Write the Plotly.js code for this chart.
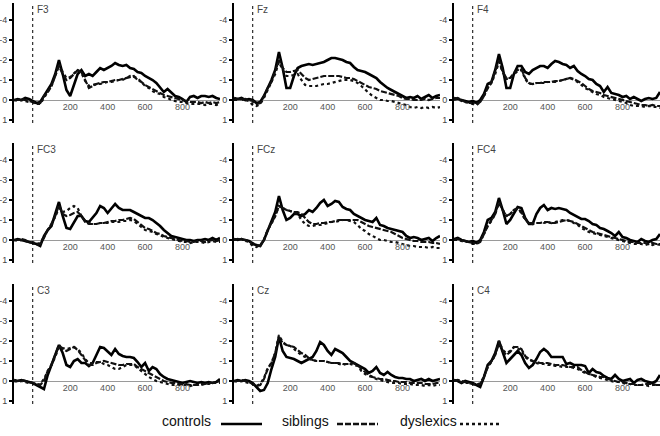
<!DOCTYPE html>
<html><head><meta charset="utf-8">
<script src="https://cdn.plot.ly/plotly-3.0.1.min.js"></script>
<style>html,body{margin:0;padding:0;background:#fff}#chart{width:660px;height:436px}</style>
</head><body><div id="chart"></div>
<script>
// time axis (ms)
const timeMs = [-100,-80,-60,-40,-20,0,20,40,60,80,100,120,140,160,180,200,220,240,260,280,300,320,340,360,380,400,420,440,460,480,500,520,540,560,580,600,620,640,660,680,700,720,740,760,780,800,820,840,860,880,900,920,940,960,980,1000];
const electrodes = ['F3','Fz','F4','FC3','FCz','FC4','C3','Cz','C4'];
const groups = ['controls','siblings','dyslexics'];
const xTickVals = [200,400,600,800];
const xTickText = ['200','400','600','800'];
const yTickVals = [-4,-3,-2,-1,0,1];
const yTickText = ['-4','-3','-2','-1','0','1'];
const stimulusOnset = 0;

// amplitudes (µV, negative up)
const F3_controls = [0.0,-0.05,0.0,-0.1,-0.05,0.05,0.15,0.1,-0.2,-0.5, -0.8,-1.3,-2.0,-1.3,-0.5,-0.2,-0.8,-1.3,-1.5,-1.2, -1.3,-1.2,-1.4,-1.6,-1.5,-1.6,-1.7,-1.85,-1.75,-1.7, -1.75,-1.6,-1.55,-1.4,-1.35,-1.2,-1.1,-1.0,-0.85,-0.6, -0.4,-0.55,-0.35,-0.2,-0.15,-0.05,0.1,-0.15,-0.2,-0.1, -0.2,-0.2,-0.15,-0.2,-0.1,-0.05];
const F3_siblings = [0.0,0.0,-0.05,0.0,0.05,0.1,0.2,0.15,-0.2,-0.4, -0.7,-1.2,-1.7,-1.3,-1.0,-1.1,-1.3,-1.5,-1.4,-1.0, -0.6,-0.7,-0.8,-0.85,-0.9,-0.9,-0.95,-1.0,-1.0,-1.05, -1.1,-1.15,-1.2,-1.0,-0.9,-0.75,-0.65,-0.55,-0.45,-0.35, -0.25,-0.2,-0.15,-0.1,-0.05,0.0,0.05,0.1,0.1,0.1, 0.15,0.1,0.15,0.1,0.15,0.1];
const F3_dyslexics = [0.0,0.05,0.0,0.05,0.1,0.1,0.2,0.2,-0.1,-0.4, -0.7,-1.2,-1.8,-1.4,-1.1,-1.15,-1.35,-1.5,-1.35,-0.95, -0.7,-0.75,-0.8,-0.8,-0.85,-0.9,-0.9,-0.95,-1.0,-1.0, -1.1,-1.2,-1.15,-1.1,-0.9,-0.7,-0.6,-0.45,-0.35,-0.3, -0.15,-0.1,0.0,0.05,0.1,0.1,0.15,0.2,0.2,0.2, 0.2,0.25,0.2,0.2,0.25,0.2];

const Fz_controls = [-0.1,-0.05,-0.1,0.0,-0.05,0.0,0.15,0.1,-0.2,-0.6, -1.0,-1.5,-2.4,-1.6,-0.6,-0.6,-1.2,-1.6,-1.7,-1.75, -1.8,-1.75,-1.8,-1.85,-1.9,-2.0,-2.1,-2.1,-2.05,-2.0, -1.9,-1.85,-1.65,-1.5,-1.45,-1.4,-1.3,-1.2,-1.1,-0.9, -0.75,-0.6,-0.5,-0.4,-0.3,-0.2,-0.1,-0.15,-0.1,-0.2, -0.05,-0.15,-0.25,-0.1,-0.2,-0.25];
const Fz_siblings = [0.0,-0.05,0.0,-0.05,0.0,0.05,0.2,0.15,-0.2,-0.6, -0.9,-1.4,-2.0,-1.6,-1.4,-1.4,-1.45,-1.5,-1.3,-1.1, -1.0,-1.05,-1.1,-1.15,-1.2,-1.2,-1.2,-1.2,-1.2,-1.15, -1.1,-1.1,-1.05,-0.95,-0.85,-0.75,-0.65,-0.6,-0.55,-0.45, -0.4,-0.35,-0.3,-0.25,-0.2,-0.1,-0.05,-0.05,0.0,0.0, 0.0,-0.05,0.0,-0.05,-0.1,-0.1];
const Fz_dyslexics = [0.0,0.0,-0.05,0.0,0.05,0.25,0.3,0.2,-0.1,-0.5, -0.9,-1.3,-1.9,-1.5,-1.2,-1.2,-1.25,-1.3,-1.0,-0.75, -0.7,-0.7,-0.7,-0.75,-0.8,-0.8,-0.85,-0.9,-0.95,-1.0, -1.0,-1.0,-0.95,-0.85,-0.7,-0.5,-0.35,-0.2,-0.1,0.0, 0.0,0.05,0.05,0.1,0.15,0.2,0.25,0.35,0.4,0.35, 0.4,0.35,0.4,0.35,0.4,0.35];

const F4_controls = [-0.1,-0.05,0.0,0.05,0.1,0.05,0.15,0.0,-0.3,-0.8, -0.9,-1.5,-2.3,-1.6,-0.6,-0.6,-1.3,-1.7,-1.7,-1.4, -1.3,-1.5,-1.6,-1.7,-1.7,-1.6,-1.8,-1.95,-1.9,-1.8, -1.75,-1.6,-1.7,-1.45,-1.3,-1.2,-1.05,-1.0,-0.8,-0.7, -0.4,-0.65,-0.35,-0.3,-0.25,-0.15,-0.2,-0.05,-0.15,-0.05, 0.05,-0.05,-0.1,-0.05,-0.1,-0.4];
const F4_siblings = [-0.05,-0.1,0.0,0.1,0.15,0.15,0.2,0.1,-0.2,-0.6, -0.9,-1.4,-2.0,-1.4,-1.1,-1.1,-1.35,-1.5,-1.55,-1.1, -0.85,-0.8,-0.85,-0.85,-0.9,-0.9,-0.9,-0.95,-0.95,-1.0, -1.05,-1.1,-1.05,-0.95,-0.85,-0.7,-0.55,-0.45,-0.4,-0.35, -0.25,-0.2,-0.15,-0.1,-0.05,0.0,0.05,0.1,0.15,0.2, 0.25,0.25,0.3,0.25,0.3,0.3];
const F4_dyslexics = [0.0,-0.05,0.05,0.1,0.15,0.2,0.25,0.1,-0.2,-0.6, -0.85,-1.3,-1.9,-1.4,-1.05,-1.1,-1.3,-1.45,-1.5,-1.05, -0.8,-0.8,-0.85,-0.85,-0.85,-0.9,-0.9,-0.9,-0.95,-1.0, -1.05,-1.1,-1.0,-0.9,-0.75,-0.6,-0.5,-0.4,-0.3,-0.25, -0.15,-0.1,-0.05,0.0,0.05,0.1,0.15,0.25,0.3,0.3, 0.3,0.35,0.3,0.35,0.35,0.4];

const FC3_controls = [0.0,-0.05,0.0,0.05,0.1,0.15,0.2,0.3,-0.2,-0.5, -0.7,-1.3,-1.9,-1.2,-0.6,-0.55,-0.9,-1.2,-1.2,-0.95, -0.9,-1.1,-1.35,-1.7,-1.6,-1.35,-1.6,-1.8,-1.6,-1.5, -1.5,-1.5,-1.4,-1.3,-1.2,-1.1,-1.1,-1.0,-0.85,-0.7, -0.5,-0.35,-0.2,-0.15,-0.1,-0.05,0.0,0.0,0.05,0.0, 0.0,-0.05,0.0,-0.1,0.0,-0.1];
const FC3_siblings = [0.0,0.0,-0.05,0.0,0.1,0.15,0.25,0.2,-0.1,-0.5, -0.8,-1.2,-1.75,-1.3,-1.2,-1.25,-1.35,-1.4,-1.2,-0.9, -0.8,-0.8,-0.8,-0.85,-0.85,-0.9,-0.95,-0.95,-1.0,-1.0, -1.05,-1.1,-1.05,-0.9,-0.75,-0.6,-0.55,-0.45,-0.35,-0.3, -0.2,-0.15,-0.1,-0.05,0.0,0.05,0.05,0.1,0.1,0.05, 0.05,0.1,0.05,0.0,0.05,0.0];
const FC3_dyslexics = [0.0,0.05,0.0,0.05,0.1,0.1,0.2,0.15,-0.15,-0.5, -0.8,-1.15,-1.6,-1.4,-1.45,-1.6,-1.7,-1.6,-1.2,-0.95, -0.85,-0.8,-0.8,-0.85,-0.85,-0.85,-0.9,-0.9,-0.9,-0.95, -0.95,-1.0,-0.95,-0.8,-0.65,-0.5,-0.45,-0.4,-0.3,-0.25, -0.15,-0.1,-0.05,0.0,0.05,0.1,0.1,0.15,0.1,0.1, 0.1,0.15,0.1,0.05,0.1,0.1];

const FCz_controls = [-0.05,0.0,-0.05,0.0,0.05,0.2,0.25,0.3,0.0,-0.5, -0.9,-1.4,-2.2,-1.5,-1.0,-1.1,-1.3,-1.3,-1.2,-1.3, -1.5,-1.4,-1.6,-1.85,-2.0,-1.7,-1.8,-1.95,-1.9,-1.65, -1.55,-1.5,-1.3,-1.2,-1.1,-1.0,-0.95,-0.9,-1.1,-0.75, -0.7,-0.6,-0.55,-0.5,-0.45,-0.4,-0.2,-0.1,-0.15,-0.1, 0.0,-0.05,-0.1,0.05,-0.1,-0.2];
const FCz_siblings = [0.0,-0.05,0.0,0.0,0.05,0.15,0.25,0.3,0.0,-0.5, -0.85,-1.2,-1.7,-1.6,-1.5,-1.45,-1.4,-1.4,-1.3,-1.1, -0.9,-0.8,-0.8,-0.85,-0.85,-0.9,-0.9,-0.95,-1.0,-1.0, -1.0,-1.0,-1.0,-1.0,-0.9,-0.8,-0.7,-0.65,-0.6,-0.55, -0.5,-0.45,-0.4,-0.3,-0.2,-0.1,-0.05,0.0,0.05,0.05, 0.1,0.1,0.1,0.15,0.15,0.2];
const FCz_dyslexics = [0.0,0.0,-0.05,0.05,0.1,0.3,0.35,0.25,0.0,-0.5, -0.8,-1.2,-1.7,-1.6,-1.5,-1.45,-1.35,-1.3,-1.0,-0.8, -0.7,-0.7,-0.75,-0.75,-0.8,-0.85,-0.9,-0.9,-0.95,-1.0, -1.0,-0.95,-0.9,-0.75,-0.55,-0.45,-0.3,-0.2,-0.1,0.0, 0.0,0.05,0.1,0.1,0.15,0.2,0.25,0.3,0.3,0.35, 0.35,0.35,0.4,0.35,0.4,0.4];

const FC4_controls = [-0.05,-0.1,0.0,0.05,0.1,0.05,0.15,0.0,-0.4,-1.0, -1.1,-1.4,-2.1,-1.5,-0.8,-1.0,-1.3,-1.65,-1.6,-1.1, -0.8,-0.8,-1.3,-1.6,-1.75,-1.5,-1.6,-1.55,-1.6,-1.55, -1.5,-1.35,-1.25,-1.15,-1.05,-1.05,-0.95,-0.8,-0.75,-0.6, -0.55,-0.45,-0.35,-0.2,-0.4,-0.15,-0.1,0.0,0.05,0.1, -0.05,0.05,0.1,0.0,-0.05,-0.3];
const FC4_siblings = [0.0,-0.05,0.0,0.05,0.1,0.15,0.2,0.1,-0.3,-0.7, -1.0,-1.3,-1.9,-1.5,-1.2,-1.3,-1.5,-1.6,-1.4,-1.05, -0.85,-0.85,-0.85,-0.85,-0.9,-0.9,-0.85,-0.85,-0.9,-0.95, -1.0,-0.95,-0.9,-0.8,-0.7,-0.6,-0.5,-0.4,-0.35,-0.3, -0.25,-0.2,-0.15,-0.1,-0.05,0.0,0.05,0.1,0.1,0.15, 0.15,0.15,0.2,0.15,0.2,0.2];
const FC4_dyslexics = [0.0,0.0,0.05,0.1,0.1,0.2,0.2,0.05,-0.3,-0.7, -0.95,-1.3,-1.85,-1.5,-1.2,-1.3,-1.5,-1.55,-1.35,-1.0, -0.85,-0.8,-0.85,-0.85,-0.85,-0.9,-0.85,-0.9,-0.95,-1.0, -1.0,-0.95,-0.85,-0.75,-0.6,-0.5,-0.4,-0.35,-0.3,-0.25, -0.2,-0.15,-0.1,-0.05,0.0,0.05,0.1,0.15,0.2,0.2, 0.2,0.25,0.2,0.25,0.2,0.25];

const C3_controls = [-0.05,0.0,-0.05,0.0,0.05,0.1,0.2,0.3,0.4,-0.3, -0.8,-1.3,-1.8,-1.4,-0.8,-0.7,-1.0,-1.1,-0.9,-0.9, -0.75,-0.9,-1.3,-1.7,-1.65,-1.45,-1.3,-1.6,-1.35,-1.25, -1.2,-1.2,-1.15,-0.95,-0.7,-0.9,-0.5,-0.7,-0.6,-0.35, -0.2,-0.1,-0.05,0.0,0.05,0.1,0.05,0.0,0.05,0.1, 0.05,0.1,0.05,0.1,0.05,-0.1];
const C3_siblings = [0.0,0.0,-0.05,0.0,0.05,0.1,0.15,0.2,0.0,-0.5, -0.8,-1.3,-1.8,-1.6,-1.5,-1.6,-1.7,-1.55,-1.3,-1.0, -0.8,-0.8,-0.9,-0.95,-1.0,-0.95,-0.9,-0.85,-0.8,-0.8, -0.85,-0.85,-0.85,-0.7,-0.6,-0.5,-0.4,-0.3,-0.2,-0.1, 0.0,0.05,0.1,0.1,0.15,0.15,0.15,0.2,0.2,0.2, 0.15,0.15,0.1,0.1,0.05,0.0];
const C3_dyslexics = [0.0,0.05,0.0,0.05,0.1,0.1,0.2,0.15,-0.1,-0.5, -0.8,-1.2,-1.7,-1.65,-1.6,-1.65,-1.7,-1.6,-1.4,-1.1, -0.9,-0.9,-0.95,-0.95,-0.85,-0.8,-0.7,-0.6,-0.6,-0.7, -0.8,-0.8,-0.8,-0.65,-0.5,-0.35,-0.2,-0.1,0.0,0.05, 0.1,0.15,0.2,0.2,0.2,0.2,0.2,0.25,0.2,0.2, 0.2,0.15,0.15,0.1,0.1,0.1];

const Cz_controls = [0.0,-0.05,0.0,-0.05,0.0,0.1,0.3,0.5,0.45,0.1, -0.6,-1.2,-2.2,-1.5,-1.2,-1.15,-1.1,-1.0,-0.9,-1.0, -1.1,-1.2,-1.5,-1.95,-1.8,-1.5,-1.3,-1.6,-1.5,-1.4, -1.2,-1.0,-0.9,-0.8,-0.7,-0.6,-0.4,-0.5,-0.7,-0.4, -0.3,-0.45,-0.3,-0.2,-0.15,-0.15,-0.1,-0.1,0.0,-0.05, -0.1,0.0,-0.1,0.0,-0.05,-0.1];
const Cz_siblings = [0.0,0.0,-0.05,0.0,0.05,0.15,0.25,0.2,-0.1,-0.6, -0.9,-1.4,-2.2,-1.9,-1.8,-1.75,-1.7,-1.55,-1.4,-1.3, -1.15,-1.05,-1.0,-1.0,-1.0,-0.95,-0.9,-0.9,-0.9,-0.85, -0.85,-0.85,-0.9,-0.8,-0.6,-0.45,-0.3,-0.2,-0.15,-0.1, -0.1,-0.05,0.0,0.0,0.05,0.05,0.05,0.1,0.1,0.1, 0.1,0.15,0.15,0.15,0.1,0.1];
const Cz_dyslexics = [0.0,0.05,0.0,0.05,0.1,0.15,0.25,0.15,-0.15,-0.65, -0.9,-1.4,-2.3,-1.95,-1.8,-1.75,-1.6,-1.45,-1.3,-1.2, -1.1,-1.05,-1.0,-1.0,-1.0,-0.95,-0.9,-0.9,-0.85,-0.8, -0.85,-0.85,-0.8,-0.75,-0.5,-0.35,-0.25,-0.2,-0.1,-0.05, 0.0,0.05,0.1,0.1,0.1,0.15,0.15,0.15,0.2,0.2, 0.2,0.25,0.2,0.25,0.2,0.2];

const C4_controls = [-0.05,0.0,0.1,0.0,0.05,0.1,0.2,0.3,-0.2,-0.8, -1.0,-1.4,-2.0,-1.4,-0.9,-1.1,-1.3,-1.5,-1.3,-0.9, -0.65,-0.8,-1.1,-1.45,-1.6,-1.45,-1.2,-1.2,-1.2,-1.2, -0.85,-0.9,-0.8,-0.8,-0.8,-0.75,-0.4,-0.6,-0.45,-0.4, -0.25,-0.15,-0.1,-0.3,-0.1,0.0,-0.05,-0.1,0.1,-0.05, -0.1,0.0,0.05,0.1,0.0,-0.3];
const C4_siblings = [0.0,-0.05,0.0,0.05,0.1,0.15,0.2,0.15,-0.2,-0.7, -1.0,-1.3,-1.9,-1.5,-1.3,-1.45,-1.7,-1.7,-1.6,-1.25, -1.1,-1.0,-0.95,-0.9,-0.9,-0.9,-0.85,-0.8,-0.8,-0.8, -0.75,-0.7,-0.7,-0.7,-0.55,-0.45,-0.35,-0.3,-0.25,-0.2, -0.2,-0.1,-0.05,0.0,0.05,0.05,0.1,0.15,0.15,0.2, 0.2,0.15,0.15,0.15,0.2,0.2];
const C4_dyslexics = [0.0,0.0,0.05,0.1,0.1,0.15,0.2,0.1,-0.2,-0.7, -0.95,-1.3,-2.0,-1.55,-1.4,-1.5,-1.7,-1.65,-1.5,-1.2, -1.05,-1.0,-0.9,-0.85,-0.85,-0.8,-0.8,-0.75,-0.75,-0.7, -0.7,-0.7,-0.65,-0.6,-0.5,-0.4,-0.35,-0.3,-0.2,-0.15, -0.1,-0.05,0.0,0.05,0.05,0.1,0.15,0.15,0.2,0.2, 0.2,0.2,0.25,0.2,0.2,0.2];

const seriesByElectrode = {
  F3: [F3_controls, F3_siblings, F3_dyslexics],
  Fz: [Fz_controls, Fz_siblings, Fz_dyslexics],
  F4: [F4_controls, F4_siblings, F4_dyslexics],
  FC3: [FC3_controls, FC3_siblings, FC3_dyslexics],
  FCz: [FCz_controls, FCz_siblings, FCz_dyslexics],
  FC4: [FC4_controls, FC4_siblings, FC4_dyslexics],
  C3: [C3_controls, C3_siblings, C3_dyslexics],
  Cz: [Cz_controls, Cz_siblings, Cz_dyslexics],
  C4: [C4_controls, C4_siblings, C4_dyslexics]
};

// styles
const lineStyles = [
  {color: '#000000', width: 2.6, dash: 'solid'},
  {color: '#111111', width: 2.2, dash: '6px,2px'},
  {color: '#111111', width: 2.2, dash: 'dot'}
];

const W = 660, H = 436;
const colLeft = [14, 234, 454];
const panelW = 206;
const rowTop = [3, 143, 284];
const panelH = 120;
const yRange = [1.15, -4.85];

const traces = [];
const layout = {
  width: W, height: H,
  margin: {l: 0, r: 0, t: 0, b: 0},
  paper_bgcolor: '#fff', plot_bgcolor: 'rgba(0,0,0,0)',
  showlegend: false,
  font: {family: 'Liberation Sans, Arial, sans-serif', color: '#444'},
  shapes: [], annotations: []
};

electrodes.forEach((el, i) => {
  const col = i % 3, row = Math.floor(i / 3);
  const s = i === 0 ? '' : String(i + 1);
  const xd = [colLeft[col] / W, (colLeft[col] + panelW) / W];
  const yd = [1 - (rowTop[row] + panelH) / H, 1 - rowTop[row] / H];
  const zeroFrac = (yRange[0] - 0) / (yRange[0] - yRange[1]);
  const zeroPos = yd[0] + zeroFrac * (yd[1] - yd[0]);

  layout['xaxis' + s] = {
    domain: xd, range: [-100, 1000], anchor: 'free', position: zeroPos,
    tickvals: xTickVals, ticktext: xTickText, ticks: '', showline: false,
    showgrid: false, zeroline: false, tickfont: {size: 9, color: '#555'},
    fixedrange: true
  };
  layout['yaxis' + s] = {
    domain: yd, range: yRange, anchor: 'x' + s,
    tickvals: yTickVals, ticktext: yTickText, ticks: 'outside', ticklen: 3,
    tickwidth: 1.5, tickcolor: '#000', showline: true, linecolor: '#000', linewidth: 2,
    showgrid: false, zeroline: true, zerolinecolor: '#9a9a9a', zerolinewidth: 1,
    tickfont: {size: 9, color: '#444'}, fixedrange: true
  };

  seriesByElectrode[el].forEach((vals, g) => {
    traces.push({
      type: 'scatter', mode: 'lines', x: timeMs, y: vals,
      xaxis: 'x' + s, yaxis: 'y' + s, name: groups[g],
      line: {color: lineStyles[g].color, width: lineStyles[g].width, dash: lineStyles[g].dash, shape: 'linear'},
      hoverinfo: 'skip'
    });
  });

  layout.shapes.push({
    type: 'line', xref: 'x' + s, yref: 'y' + s + ' domain',
    x0: stimulusOnset, x1: stimulusOnset, y0: 0, y1: 1,
    line: {color: '#000', width: 1, dash: 'dot'}
  });
  layout.annotations.push({
    text: el, xref: 'x' + s, yref: 'y' + s + ' domain', x: stimulusOnset, y: 1,
    xanchor: 'left', yanchor: 'top', xshift: 2, yshift: 1, showarrow: false,
    font: {size: 10, color: '#444'}
  });
});

// legend (text followed by line sample, as in the original)
const legendTextEnd = [213, 331, 459];
const legendLine = [[221, 262], [337, 378], [460, 502]];
groups.forEach((g, k) => {
  layout.annotations.push({
    text: g, xref: 'paper', yref: 'paper', x: legendTextEnd[k] / W, y: 1 - 421 / H,
    xanchor: 'right', yanchor: 'middle', showarrow: false,
    font: {size: 14, color: '#111', family: 'Liberation Sans, Arial, sans-serif'}
  });
  layout.shapes.push({
    type: 'line', xref: 'paper', yref: 'paper',
    x0: legendLine[k][0] / W, x1: legendLine[k][1] / W, y0: 1 - 424 / H, y1: 1 - 424 / H,
    line: {color: lineStyles[k].color, width: 2.6, dash: lineStyles[k].dash}
  });
});

Plotly.newPlot('chart', traces, layout, {staticPlot: true, displayModeBar: false});
</script>
</body></html>
